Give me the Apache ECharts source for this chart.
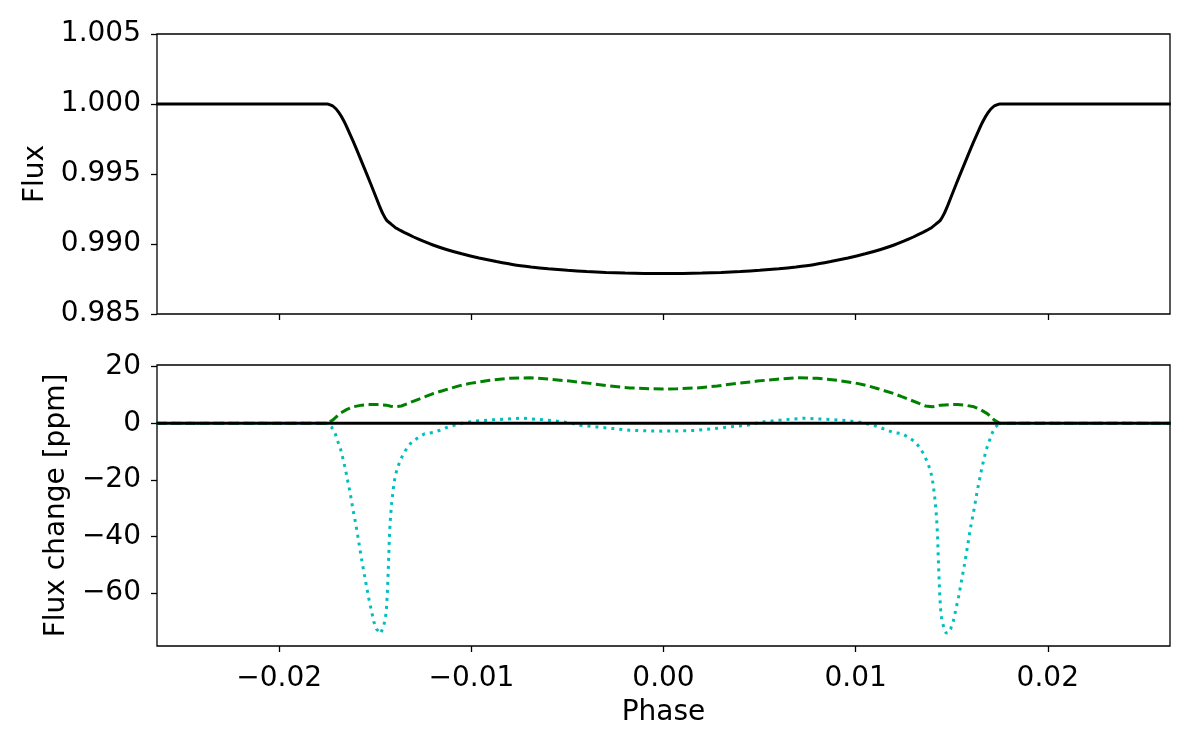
<!DOCTYPE html>
<html>
<head>
<meta charset="utf-8">
<script src="https://cdn.jsdelivr.net/npm/echarts@6/dist/echarts.min.js"></script>
<style>
  html, body { margin: 0; padding: 0; background: #fff; }
  #chart { width: 1200px; height: 750px; }
</style>
</head>
<body>
<div id="chart"></div>
<script>
// tick positions
const phaseTicks = [-0.02, -0.01, 0, 0.01, 0.02];
const fluxTicks = [0.985, 0.99, 0.995, 1.0, 1.005];
const ppmTicks = [-60, -40, -20, 0, 20];

// top panel: transit light curve
const fluxPhase = [
  -0.0264, -0.0175, -0.0172, -0.0169, -0.0166, -0.0163, -0.0160, -0.0157, -0.0154, -0.0151,
  -0.0148, -0.0146, -0.0144, -0.0142, -0.0139, -0.0135, -0.0130, -0.0125, -0.0120, -0.0113,
  -0.0105, -0.0096, -0.0087, -0.0078, -0.0069, -0.0060, -0.0050, -0.0040, -0.0030, -0.0020,
  -0.0010, 0,
  0.0010, 0.0020, 0.0030, 0.0040, 0.0050, 0.0060, 0.0069, 0.0078, 0.0087, 0.0096,
  0.0105, 0.0113, 0.0120, 0.0125, 0.0130, 0.0135, 0.0139, 0.0142, 0.0144, 0.0146,
  0.0148, 0.0151, 0.0154, 0.0157, 0.0160, 0.0163, 0.0166, 0.0169, 0.0172, 0.0175, 0.0264
];
const fluxValues = [
  1.0, 1.0, 0.99985, 0.99940, 0.99870, 0.99780, 0.99685, 0.99585, 0.99485, 0.99382,
  0.99278, 0.99215, 0.99168, 0.99145, 0.99112, 0.99083, 0.99050, 0.99020, 0.98993, 0.98961,
  0.98930, 0.98900, 0.98875, 0.98852, 0.98836, 0.98823, 0.98812, 0.98803, 0.98796, 0.98792,
  0.98790, 0.98789,
  0.98790, 0.98792, 0.98796, 0.98803, 0.98812, 0.98823, 0.98836, 0.98852, 0.98875, 0.98900,
  0.98930, 0.98961, 0.98993, 0.99020, 0.99050, 0.99083, 0.99112, 0.99145, 0.99168, 0.99215,
  0.99278, 0.99382, 0.99485, 0.99585, 0.99685, 0.99780, 0.99870, 0.99940, 0.99985, 1.0, 1.0
];

// bottom panel: green dashed curve (ppm)
const greenPhase = [
  -0.0264, -0.0175, -0.0172, -0.01685, -0.0165, -0.01616, -0.0157, -0.01529, -0.0149, -0.01442,
  -0.0142, -0.01399, -0.01364, -0.0133, -0.01286, -0.0124, -0.01199, -0.0115, -0.01112, -0.0106,
  -0.01008, -0.00904, -0.008, -0.00696, -0.00592, -0.00488, -0.00384, -0.0028, -0.00175, -0.00071, 0,
  0.00071, 0.00175, 0.0028, 0.00384, 0.00488, 0.00592, 0.00696, 0.008, 0.00904, 0.01008,
  0.0106, 0.01112, 0.0115, 0.01199, 0.0124, 0.01286, 0.0133, 0.01364, 0.01399, 0.0142,
  0.01442, 0.0149, 0.01529, 0.0157, 0.01616, 0.0165, 0.01685, 0.0172, 0.0175, 0.0264
];
const greenValues = [
  0, 0, 1.2, 3.4, 4.8, 5.8, 6.4, 6.6, 6.6, 6.4,
  6.0, 5.8, 6.1, 7.0, 8.2, 9.4, 10.5, 11.5, 12.3, 13.3,
  14.1, 15.2, 15.9, 16.1, 15.6, 14.9, 14.1, 13.2, 12.5, 12.2, 12.1,
  12.2, 12.5, 13.2, 14.1, 14.9, 15.6, 16.1, 15.9, 15.2, 14.1,
  13.3, 12.3, 11.5, 10.5, 9.4, 8.2, 7.0, 6.1, 5.8, 6.0,
  6.4, 6.6, 6.6, 6.4, 5.8, 4.8, 3.4, 1.2, 0, 0
];

// bottom panel: cyan dotted curve (ppm)
const cyanPhase = [
  -0.0264, -0.0175, -0.01728, -0.01707, -0.01694, -0.0168, -0.01669, -0.01659, -0.0165, -0.01642,
  -0.01633, -0.01626, -0.01619, -0.01611, -0.01602, -0.01595, -0.01588, -0.01581, -0.01567, -0.01551,
  -0.01536, -0.01517, -0.01508, -0.01494, -0.01472, -0.01456, -0.01447, -0.01442, -0.01437, -0.01432,
  -0.01426, -0.01421, -0.01414, -0.01404, -0.01397, -0.01387, -0.01373, -0.01356, -0.01335, -0.0131,
  -0.01277, -0.01243, -0.012, -0.01156, -0.01121, -0.01078, -0.01034, -0.00996, -0.00956, -0.00869,
  -0.00783, -0.0074, -0.00696, -0.00609, -0.00523, -0.0048, -0.00436, -0.00349, -0.00262, -0.00175,
  -0.00088, 0,
  0.00088, 0.00175, 0.00262, 0.00349, 0.00436, 0.0048, 0.00523, 0.00609, 0.00696, 0.0074,
  0.00783, 0.00869, 0.00956, 0.00996, 0.01034, 0.01078, 0.01121, 0.01156, 0.012, 0.01243,
  0.01277, 0.0131, 0.01335, 0.01356, 0.01373, 0.01387, 0.01397, 0.01404, 0.01414, 0.01421,
  0.01426, 0.01432, 0.01437, 0.01442, 0.01447, 0.01456, 0.01472, 0.01494, 0.01508, 0.01517,
  0.01536, 0.01551, 0.01567, 0.01581, 0.01588, 0.01595, 0.01602, 0.01611, 0.01619, 0.01626,
  0.01633, 0.01642, 0.0165, 0.01659, 0.01669, 0.0168, 0.01694, 0.01707, 0.01728, 0.0175, 0.0264
];
const cyanValues = [
  0, 0, -1.3, -3.9, -6.6, -9.3, -12.3, -15.2, -18.1, -20.9,
  -23.8, -26.6, -29.4, -32.4, -35.4, -38.2, -41.1, -44.1, -49.8, -55.7,
  -61.3, -67.3, -70.1, -72.8, -74.4, -71.6, -68.8, -65.7, -59.8, -51.2,
  -39.4, -33.4, -27.6, -21.9, -19.0, -16.3, -13.7, -11.1, -8.8, -6.6,
  -5.1, -3.7, -3.3, -2.3, -1.3, -0.5, 0.2, 0.6, 0.9, 1.3,
  1.6, 1.8, 1.6, 1.1, 0.5, 0.0, -0.7, -1.3, -1.9, -2.5,
  -2.7, -2.8,
  -2.7, -2.5, -1.9, -1.3, -0.7, 0.0, 0.5, 1.1, 1.6, 1.8,
  1.6, 1.3, 0.9, 0.6, 0.2, -0.5, -1.3, -2.3, -3.3, -3.7,
  -5.1, -6.6, -8.8, -11.1, -13.7, -16.3, -19.0, -21.9, -27.6, -33.4,
  -39.4, -51.2, -59.8, -65.7, -68.8, -71.6, -74.4, -72.8, -70.1, -67.3,
  -61.3, -55.7, -49.8, -44.1, -41.1, -38.2, -35.4, -32.4, -29.4, -26.6,
  -23.8, -20.9, -18.1, -15.2, -12.3, -9.3, -6.6, -3.9, -1.3, 0, 0
];

// bottom panel: black reference line
const zeroPhase = [-0.0264, 0.0264];
const zeroValues = [0, 0];

const pairs = (xs, ys) => xs.map((x, i) => [x, ys[i]]);
const minus = s => s.replace('-', '\u2212');

const FONT = 'DejaVu Sans';
const FS = 28;
const tickStyle = {show: true, inside: false, length: 6, lineStyle: {color: '#000', width: 1.3}};

const chart = echarts.init(document.getElementById('chart'), null, {renderer: 'canvas'});

chart.setOption({
  animation: false,
  backgroundColor: '#fff',
  grid: [
    {left: 157, right: 30, top: 34, height: 280, show: true, borderColor: '#000', borderWidth: 1.3},
    {left: 157, right: 30, top: 365, height: 281, show: true, borderColor: '#000', borderWidth: 1.3},
  ],
  xAxis: [
    {
      gridIndex: 0, type: 'value', min: -0.02636, max: 0.02636,
      axisLine: {show: false, onZero: false},
      axisTick: Object.assign({customValues: phaseTicks}, tickStyle),
      axisLabel: {show: false},
      splitLine: {show: false},
    },
    {
      gridIndex: 1, type: 'value', min: -0.02636, max: 0.02636,
      axisLine: {show: false, onZero: false},
      axisTick: Object.assign({customValues: phaseTicks}, tickStyle),
      axisLabel: {
        customValues: phaseTicks, color: '#000', fontSize: FS, fontFamily: FONT, margin: 19,
        formatter: v => minus(v.toFixed(2)),
      },
      splitLine: {show: false},
      name: 'Phase', nameLocation: 'middle', nameGap: 53,
      nameTextStyle: {color: '#000', fontSize: FS, fontFamily: FONT},
    },
  ],
  yAxis: [
    {
      gridIndex: 0, type: 'value', min: 0.985, max: 1.005,
      axisLine: {show: false, onZero: false},
      axisTick: Object.assign({customValues: fluxTicks}, tickStyle),
      axisLabel: {
        customValues: fluxTicks, color: '#000', fontSize: FS, fontFamily: FONT, margin: 16,
        formatter: v => v.toFixed(3),
      },
      splitLine: {show: false},
      name: 'Flux', nameLocation: 'middle', nameGap: 107,
      nameTextStyle: {color: '#000', fontSize: FS, fontFamily: FONT},
    },
    {
      gridIndex: 1, type: 'value', min: -78.8, max: 20.6,
      axisLine: {show: false, onZero: false},
      axisTick: Object.assign({customValues: ppmTicks}, tickStyle),
      axisLabel: {
        customValues: ppmTicks, color: '#000', fontSize: FS, fontFamily: FONT, margin: 16,
        formatter: v => minus(String(Math.round(v))),
      },
      splitLine: {show: false},
      name: 'Flux change [ppm]', nameLocation: 'middle', nameGap: 82,
      nameTextStyle: {color: '#000', fontSize: FS, fontFamily: FONT},
    },
  ],
  series: [
    {
      name: 'flux', type: 'line', xAxisIndex: 0, yAxisIndex: 0,
      data: pairs(fluxPhase, fluxValues), showSymbol: false,
      smooth: 0.15,
      lineStyle: {color: '#000', width: 3},
    },
    {
      name: 'green', type: 'line', xAxisIndex: 1, yAxisIndex: 1,
      data: pairs(greenPhase, greenValues), showSymbol: false,
      lineStyle: {color: '#008000', width: 3, type: [10, 4.5]},
    },
    {
      name: 'cyan', type: 'line', xAxisIndex: 1, yAxisIndex: 1,
      data: pairs(cyanPhase, cyanValues), showSymbol: false,
      lineStyle: {color: '#00bfbf', width: 3, type: [3, 5]},
    },
    {
      name: 'zero', type: 'line', xAxisIndex: 1, yAxisIndex: 1,
      data: pairs(zeroPhase, zeroValues), showSymbol: false,
      lineStyle: {color: '#000', width: 3},
    },
  ],
});
</script>
</body>
</html>
